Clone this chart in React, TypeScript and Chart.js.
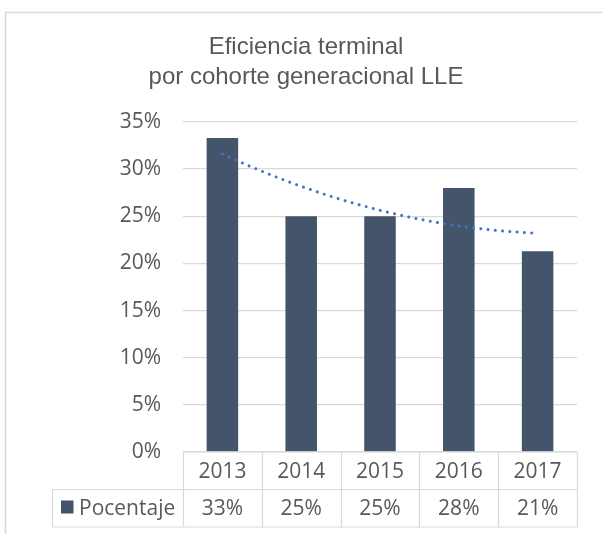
import { useEffect, useRef } from 'react';
import { Chart, registerables } from 'chart.js';

Chart.register(...registerables);

// ---- data ----
const titleLines = ['Eficiencia terminal', 'por cohorte generacional LLE'];
const years = ['2013', '2014', '2015', '2016', '2017'];
const porcentaje = [33.3, 25.0, 25.0, 28.0, 21.3];
const seriesName = 'Pocentaje';
const yMax = 35;
const yStep = 5;

// ---- styles ----
const BAR_COLOR = '#44546A';
const TREND_COLOR = '#4472C4';
const TEXT_COLOR = '#595959';
const GRID_COLOR = '#D9D9D9';
const BORDER_COLOR = '#D9D9D9';
const TITLE_FONT = "'Liberation Sans', Arial, sans-serif";
const LABEL_FONT = "'Open Sans', 'Liberation Sans', sans-serif";
const LABEL_SIZE = 21;

// polynomial (order 2) trendline fitted to the series, as Excel does
function quadFit(ys: number[]) {
  const n = ys.length;
  const S = [0, 0, 0, 0, 0];
  const T = [0, 0, 0];
  for (let i = 0; i < n; i++) {
    for (let k = 0; k < 5; k++) S[k] += Math.pow(i, k);
    for (let k = 0; k < 3; k++) T[k] += ys[i] * Math.pow(i, k);
  }
  const M = [
    [S[0], S[1], S[2], T[0]],
    [S[1], S[2], S[3], T[1]],
    [S[2], S[3], S[4], T[2]],
  ];
  for (let c = 0; c < 3; c++) {
    for (let r = c + 1; r < 3; r++) {
      const f = M[r][c] / M[c][c];
      for (let k = c; k < 4; k++) M[r][k] -= f * M[c][k];
    }
  }
  const x = [0, 0, 0];
  for (let r = 2; r >= 0; r--) {
    let s = M[r][3];
    for (let k = r + 1; k < 3; k++) s -= M[r][k] * x[k];
    x[r] = s / M[r][r];
  }
  return (t: number) => x[0] + x[1] * t + x[2] * t * t;
}

const trendFn = quadFit(porcentaje);
const trendPoints: { x: number; y: number }[] = [];
for (let i = 0; i <= (years.length - 1) * 20; i++) {
  const t = i / 20;
  trendPoints.push({ x: t, y: trendFn(t) });
}

const framePlugin = {
  id: 'frame',
  beforeDraw(chart: any) {
    const { ctx, width, height } = chart;
    ctx.save();
    ctx.fillStyle = '#ffffff';
    ctx.fillRect(0, 0, width, height);
    ctx.strokeStyle = BORDER_COLOR;
    ctx.lineWidth = 1.5;
    ctx.beginPath();
    ctx.moveTo(width + 2, 12.5);
    ctx.lineTo(5.5, 12.5);
    ctx.lineTo(5.5, height + 2);
    ctx.stroke();
    ctx.restore();
  },
};

const tablePlugin = {
  id: 'dataTable',
  afterDraw(chart: any) {
    const { ctx, chartArea } = chart;
    const xs = chart.scales.x;
    const n = years.length;
    const colW = (chartArea.right - chartArea.left) / n;
    const top = chartArea.bottom;
    const rowH = 37.5;
    const legendLeft = 52.5;
    ctx.save();
    ctx.strokeStyle = GRID_COLOR;
    ctx.lineWidth = 1.2;
    ctx.beginPath();
    ctx.moveTo(chartArea.left, top);
    ctx.lineTo(chartArea.right, top);
    ctx.moveTo(legendLeft, top + rowH);
    ctx.lineTo(chartArea.right, top + rowH);
    ctx.moveTo(legendLeft, top + 2 * rowH);
    ctx.lineTo(chartArea.right, top + 2 * rowH);
    for (let i = 0; i <= n; i++) {
      const x = Math.round(chartArea.left + i * colW) + 0.5;
      ctx.moveTo(x, top);
      ctx.lineTo(x, top + 2 * rowH);
    }
    ctx.moveTo(legendLeft, top + rowH);
    ctx.lineTo(legendLeft, top + 2 * rowH);
    ctx.stroke();

    ctx.fillStyle = TEXT_COLOR;
    ctx.font = `${LABEL_SIZE}px ${LABEL_FONT}`;
    ctx.textAlign = 'center';
    ctx.textBaseline = 'middle';
    for (let i = 0; i < n; i++) {
      const cx = xs.getPixelForValue(i);
      ctx.fillText(years[i], cx, top + rowH / 2 + 1);
      ctx.fillText(`${Math.round(porcentaje[i])}%`, cx, top + rowH * 1.5 + 1);
    }
    ctx.fillStyle = BAR_COLOR;
    ctx.fillRect(61, top + rowH + 11, 12.5, 13);
    ctx.fillStyle = TEXT_COLOR;
    ctx.textAlign = 'left';
    ctx.fillText(seriesName, 79, top + rowH * 1.5 + 1);
    ctx.restore();
  },
};

export default function App() {
  const ref = useRef<HTMLCanvasElement | null>(null);
  useEffect(() => {
    if (!ref.current) return;
    const chart = new Chart(ref.current, {
      type: 'bar',
      data: {
        labels: years,
        datasets: [
          {
            type: 'line',
            label: 'Tendencia',
            data: trendPoints as any,
            xAxisID: 'xt',
            yAxisID: 'y',
            borderColor: TREND_COLOR,
            borderWidth: 3,
            borderDash: [0.001, 7.3],
            borderCapStyle: 'round',
            pointRadius: 0,
            fill: false,
            order: 0,
          } as any,
          {
            type: 'bar',
            label: seriesName,
            data: porcentaje,
            xAxisID: 'x',
            yAxisID: 'y',
            backgroundColor: BAR_COLOR,
            categoryPercentage: 1,
            barPercentage: 0.4,
            grouped: false,
            order: 1,
          },
        ],
      },
      options: {
        responsive: false,
        animation: false,
        devicePixelRatio: 1,
        layout: { padding: { left: 10, right: 0, top: 0, bottom: 82 } },
        plugins: {
          legend: { display: false },
          tooltip: { enabled: false },
          title: {
            display: true,
            text: titleLines,
            color: TEXT_COLOR,
            font: { family: TITLE_FONT, size: 24, weight: 'normal', lineHeight: 1.25 },
            padding: { top: 32, bottom: 30 },
          },
        },
        scales: {
          x: {
            type: 'category',
            display: false,
            offset: true,
          },
          xt: {
            type: 'linear',
            display: false,
            offset: false,
            grid: { offset: false },
            min: -0.5,
            max: years.length - 0.5,
          },
          y: {
            type: 'linear',
            position: 'left',
            min: 0,
            max: yMax,
            ticks: {
              stepSize: yStep,
              padding: 22,
              color: TEXT_COLOR,
              font: { family: LABEL_FONT, size: LABEL_SIZE },
              callback: (v: any) => `${v}%`,
            },
            grid: { color: GRID_COLOR, lineWidth: 1.3, drawTicks: false },
            border: { display: false },
            afterFit: (s: any) => {
              s.width = 173;
            },
          },
          yr: {
            type: 'linear',
            position: 'right',
            display: true,
            ticks: { display: false },
            grid: { display: false },
            border: { display: false },
            afterFit: (s: any) => {
              s.width = 25;
            },
          },
        },
      } as any,
      plugins: [framePlugin, tablePlugin],
    });
    return () => chart.destroy();
  }, []);
  return (
    <div style={{ position: 'fixed', left: 0, top: 0, width: 602, height: 534, background: '#fff' }}>
      <canvas ref={ref} width={602} height={534} style={{ display: 'block' }} />
    </div>
  );
}
